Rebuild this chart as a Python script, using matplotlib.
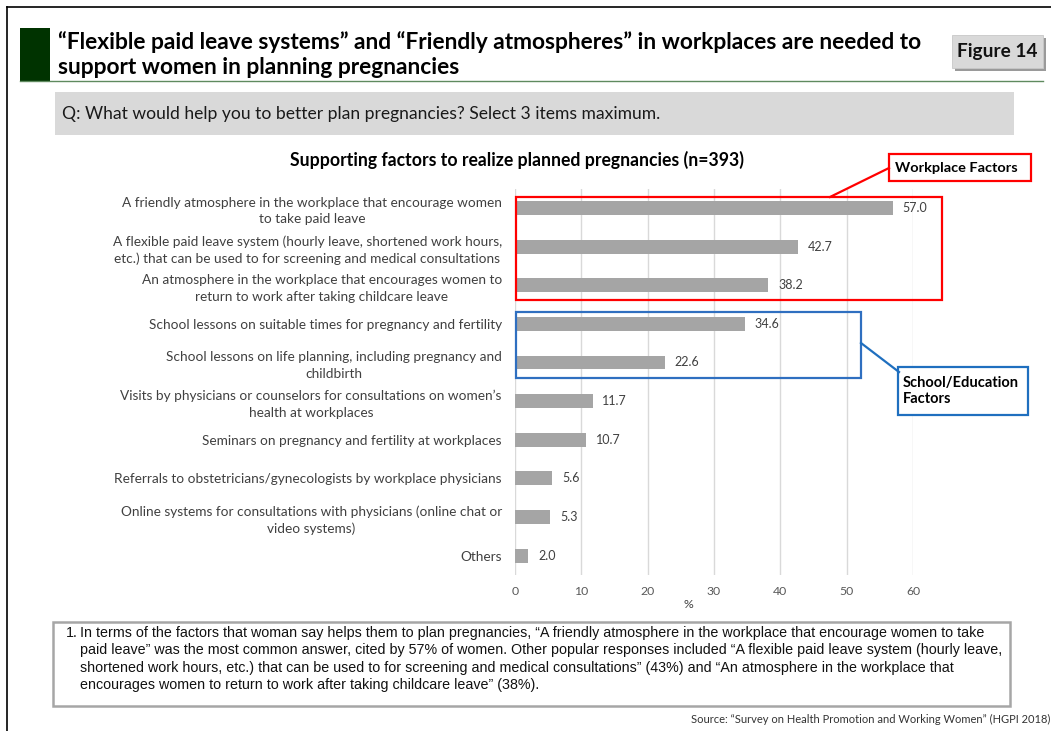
import matplotlib
matplotlib.use("Agg")
import matplotlib.pyplot as plt
from matplotlib.patches import Rectangle
from matplotlib.lines import Line2D

W, H = 1051, 731

categories = [
    "A friendly atmosphere in the workplace that encourage women\nto take paid leave",
    "A flexible paid leave system (hourly leave, shortened work hours,\netc.) that can be used to for screening and medical consultations",
    "An atmosphere in the workplace that encourages women to\nreturn to work after taking childcare leave",
    "School lessons on suitable times for pregnancy and fertility",
    "School lessons on life planning, including pregnancy and\nchildbirth",
    "Visits by physicians or counselors for consultations on women\u2019s\nhealth at workplaces",
    "Seminars on pregnancy and fertility at workplaces",
    "Referrals to obstetricians/gynecologists by workplace physicians",
    "Online systems for consultations with physicians (online chat or\nvideo systems)",
    "Others",
]
values = [57.0, 42.7, 38.2, 34.6, 22.6, 11.7, 10.7, 5.6, 5.3, 2.0]
x_ticks = [0, 10, 20, 30, 40, 50, 60]

title_lines = [
    "\u201cFlexible paid leave systems\u201d and \u201cFriendly atmospheres\u201d in workplaces are needed to",
    "support women in planning pregnancies",
]
question = "Q: What would help you to better plan pregnancies? Select 3 items maximum."
chart_title = "Supporting factors to realize planned pregnancies (n=393)"
note_lines = (
    "In terms of the factors that woman say helps them to plan pregnancies, \u201cA friendly atmosphere in the workplace that encourage women to take\n"
    "paid leave\u201d was the most common answer, cited by 57% of women. Other popular responses included \u201cA flexible paid leave system (hourly leave,\n"
    "shortened work hours, etc.) that can be used to for screening and medical consultations\u201d (43%) and \u201cAn atmosphere in the workplace that\n"
    "encourages women to return to work after taking childcare leave\u201d (38%)."
)
source = "Source: \u201cSurvey on Health Promotion and Working Women\u201d (HGPI 2018)"

SANS = ["Lato", "DejaVu Sans"]
NARROW = ["Liberation Sans Narrow", "Liberation Sans", "DejaVu Sans"]

fig = plt.figure(figsize=(W / 100, H / 100), dpi=100)
fig.patch.set_facecolor("white")
renderer = fig.canvas.get_renderer()


def fx(px):
    return px / W


def fy(py):
    return 1 - py / H


def fit(t, target_px):
    """Scale a text's font so its rendered width equals target_px."""
    w = t.get_window_extent(renderer=renderer).width
    t.set_fontsize(t.get_fontsize() * target_px / w)
    return t


def frect(x0, y0, x1, y1, **kw):
    r = Rectangle((fx(x0), fy(y1)), fx(x1) - fx(x0), fy(y0) - fy(y1),
                  transform=fig.transFigure, **kw)
    fig.add_artist(r)
    return r


def fline(xs, ys, **kw):
    fig.add_artist(Line2D([fx(v) for v in xs], [fy(v) for v in ys],
                          transform=fig.transFigure, **kw))


# page frame (top and left edges)
fline([7, W], [7, 7], color="black", lw=1.2)
fline([7, 7], [7, H], color="black", lw=1.2)

# heading block
frect(20, 28, 50, 81, facecolor="#003300", edgecolor="none")
fline([20, 1043], [81, 81], color="#5f8a5f", lw=1.0)
t1 = fig.text(fx(58), fy(42), title_lines[0], fontsize=16, fontweight="bold",
              family=SANS, color="black", va="center", ha="left")
fit(t1, 870)
fig.text(fx(58), fy(68), title_lines[1], fontsize=t1.get_fontsize(),
         fontweight="bold", family=SANS, color="black", va="center", ha="left")

# "Figure 14" badge with shadow
frect(955, 38, 1046, 71, facecolor="#9a9a9a", edgecolor="none")
frect(952, 35, 1043, 68, facecolor="#d9d9d9", edgecolor="#c8c8c8", lw=0.6)
tf = fig.text(fx(997.5), fy(51), "Figure 14", fontsize=13, fontweight="bold",
              family=SANS, color="#111111", va="center", ha="center")
fit(tf, 80)

# question bar
frect(55, 92, 1014, 135, facecolor="#d9d9d9", edgecolor="none")
tq = fig.text(fx(62), fy(114), question, fontsize=12, family=SANS,
              color="#1a1a1a", va="center", ha="left")
fit(tq, 596)

# chart title
tc = fig.text(fx(517), fy(160), chart_title, fontsize=11, fontweight="bold",
              family=SANS, color="black", va="center", ha="center")
fit(tc, 451)

# bar chart
ax_left, ax_right, ax_top, ax_bottom = 515, 913, 188.6, 575.0
ax = fig.add_axes([fx(ax_left), fy(ax_bottom), fx(ax_right) - fx(ax_left),
                   (ax_bottom - ax_top) / H])
ypos = list(range(len(categories)))
ax.barh(ypos, values, height=0.36, color="#a5a5a5", zorder=3)
ax.set_xlim(0, 60)
ax.set_ylim(len(categories) - 0.5, -0.5)
ax.set_xticks(x_ticks)
ax.set_xticklabels([str(v) for v in x_ticks])
ax.set_yticks(ypos)
ax.set_yticklabels(categories)
ax.grid(axis="x", color="#d9d9d9", lw=1.0, zorder=0)
ax.set_axisbelow(True)
for s in ax.spines.values():
    s.set_visible(False)
ax.tick_params(axis="x", length=0, pad=8, labelsize=8.8, labelcolor="#595959")
ax.tick_params(axis="y", length=0, pad=9.5, labelcolor="#404040")
for lab in ax.get_xticklabels():
    lab.set_family(SANS)
# size category labels so the widest single line spans about 387 px
probe = fig.text(0, 0, categories[7], fontsize=9.5, family=SANS)
w = probe.get_window_extent(renderer=renderer).width
lab_size = 9.5 * 387 / w
probe.remove()
for lab in ax.get_yticklabels():
    lab.set_family(SANS)
    lab.set_multialignment("center")
    lab.set_linespacing(1.45)
    lab.set_fontsize(lab_size)
ax.set_xlabel("%", fontsize=8.8, color="#404040", family=SANS)
ax.xaxis.set_label_coords((688 - ax_left) / (ax_right - ax_left),
                          -(605 - ax_bottom) / (ax_bottom - ax_top), transform=ax.transAxes)
ax.xaxis.label.set_va("center")

for y, v in zip(ypos, values):
    ax.annotate(f"{v:.1f}", xy=(v, y), xytext=(7, 0), textcoords="offset points",
                va="center", ha="left", fontsize=9, color="#404040",
                family=SANS, annotation_clip=False)

# group call-outs
red = "#ff0000"
blue = "#2f6fc0"
frect(516, 197, 942, 300, facecolor="none", edgecolor=red, lw=1.6)
fline([830, 889], [197, 168], color=red, lw=1.6)
frect(889, 154, 1031, 181, facecolor="white", edgecolor=red, lw=1.6)
tw = fig.text(fx(895), fy(168), "Workplace Factors", fontsize=9.5,
              fontweight="bold", family=SANS, color="black", va="center", ha="left")
fit(tw, 123)

frect(516, 312, 861, 378, facecolor="none", edgecolor=blue, lw=1.6)
fline([861, 899], [343, 372], color="#1f6fbf", lw=1.6)
frect(898, 367, 1028, 415, facecolor="white", edgecolor="#1f6fbf", lw=1.6)
ts = fig.text(fx(903), fy(391), "School/Education\nFactors", fontsize=9.5,
              fontweight="bold", family=SANS, color="black", va="center",
              ha="left", linespacing=1.25)
fit(ts, 117)

# summary note
frect(53, 622, 1010, 706, facecolor="white", edgecolor="#a6a6a6", lw=1.8)
tn = fig.text(fx(80), fy(626), note_lines, fontsize=9, family=NARROW,
              color="#111111", va="top", ha="left", linespacing=1.3)
probe = fig.text(0, 0, note_lines.split("\n")[1], fontsize=9, family=NARROW)
w = probe.get_window_extent(renderer=renderer).width
probe.remove()
tn.set_fontsize(9 * 918 / w)
fig.text(fx(66), fy(626), "1.", fontsize=tn.get_fontsize(), family=NARROW,
         color="#111111", va="top", ha="left")

tsrc = fig.text(fx(1050), fy(719), source, fontsize=7, family=SANS,
                color="#333333", va="center", ha="right")
fit(tsrc, 357)

fig.savefig("out.png", dpi=100)
